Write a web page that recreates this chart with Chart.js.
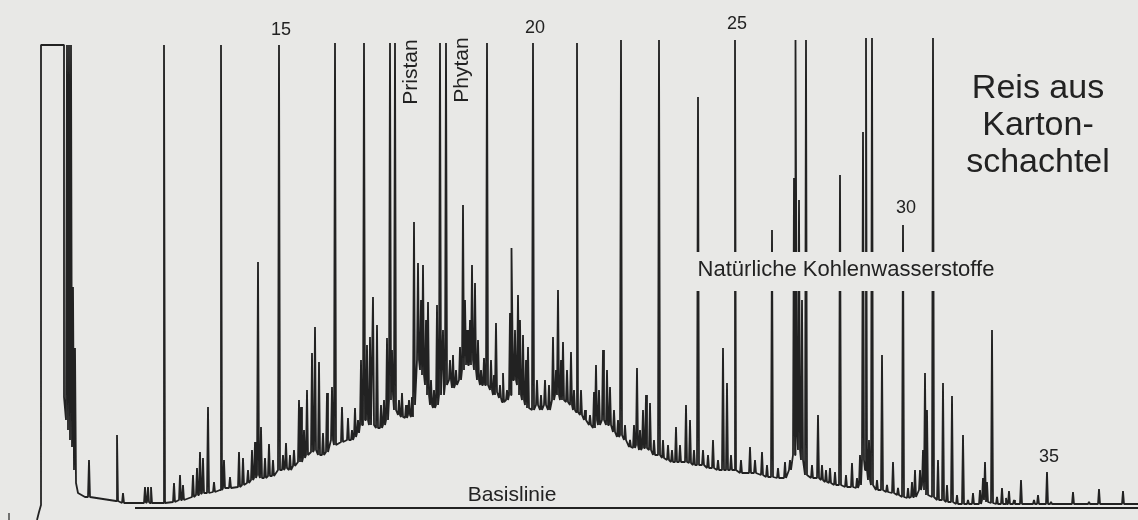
<!DOCTYPE html>
<html lang="de">
<head>
<meta charset="UTF-8">
<title>Gaschromatogramm - Reis aus Kartonschachtel</title>
<script src="https://cdn.jsdelivr.net/npm/chart.js"></script>
<style>
  html, body { margin: 0; padding: 0; background: #e8e8e6; }
  .wrap { position: relative; width: 1138px; height: 520px; }
</style>
</head>
<body>
<div class="wrap"><canvas id="gc"></canvas></div>
<script>
// retention (arbitrary units) and detector signal

// solvent front at the start of the run
const frontRt  = [37, 39, 41, 41, 64, 64, 66, 67, 68, 69, 70, 71, 72, 73, 74, 75, 76, 78, 85];
const frontSig = [-12, -4, 3, 463, 463, 111, 88, 463, 78, 463, 68, 463, 61, 221, 38, 160, 25, 15, 11];

// peaks: position, top and local foot of each peak
const peakRt = [
  89, 117, 123, 145, 148, 151, 164, 174, 180, 183, 193, 197, 200, 203, 208, 214,
  221, 224, 230, 239, 243, 248, 252, 255, 258, 261, 265, 269, 273, 279, 283, 286,
  290, 294, 299, 301, 304, 307, 312, 315, 319, 323, 327, 332, 335, 342, 348, 352,
  355, 358, 361, 364, 367, 370, 373, 377, 381, 384, 387, 390, 392, 395, 399, 402,
  406, 409, 412, 414, 418, 421, 423, 426, 428, 431, 434, 437, 440, 443, 446, 450,
  453, 456, 460, 463, 465, 467, 470, 472, 475, 478, 481, 484, 487, 491, 494, 496,
  500, 503, 507, 510, 512, 515, 518, 520, 523, 526, 528, 533, 537, 541, 545, 549,
  553, 556, 558, 561, 563, 567, 571, 574, 577, 581, 585, 590, 594, 596, 599, 603,
  607, 610, 614, 618, 621, 625, 630, 634, 637, 640, 643, 646, 650, 654, 659, 663,
  668, 672, 676, 680, 686, 690, 694, 698, 703, 708, 713, 718, 723, 727, 731, 735,
  741, 750, 755, 762, 767, 772, 778, 785, 790, 794, 796, 799, 802, 806, 812, 818,
  822, 826, 830, 835, 840, 846, 852, 857, 860, 863, 866, 869, 872, 877, 882, 887,
  893, 898, 903, 908, 912, 915, 920, 923, 925, 927, 933, 938, 943, 947, 952, 957,
  963, 968, 973, 980, 983, 985, 987, 992, 997, 1002, 1006, 1009, 1014, 1021, 1034, 1038,
  1047, 1051, 1073, 1089, 1099, 1123
];
const peakTop = [
  48, 73, 15, 21, 21, 21, 463, 25, 33, 23, 33, 40, 56, 50, 101, 26,
  463, 48, 31, 56, 50, 38, 58, 66, 246, 81, 50, 64, 48, 463, 53, 65,
  53, 58, 108, 101, 78, 118, 155, 181, 146, 75, 115, 121, 465, 101, 90, 78,
  100, 88, 148, 465, 163, 171, 211, 183, 103, 108, 170, 465, 158, 465, 108, 115,
  103, 108, 111, 286, 245, 208, 243, 188, 206, 128, 118, 203, 465, 178, 465, 148,
  153, 138, 161, 303, 208, 178, 188, 243, 225, 168, 138, 150, 465, 148, 133, 185,
  123, 135, 118, 195, 260, 178, 213, 188, 173, 148, 161, 465, 128, 113, 128, 123,
  171, 138, 218, 148, 166, 138, 156, 118, 465, 118, 98, 93, 116, 143, 118, 158,
  138, 121, 98, 88, 468, 83, 68, 83, 140, 78, 98, 113, 105, 68, 468, 68,
  63, 58, 81, 63, 103, 88, 58, 411, 58, 53, 68, 48, 160, 125, 53, 468,
  48, 61, 48, 56, 43, 278, 40, 46, 48, 330, 468, 308, 208, 468, 43, 93,
  43, 38, 40, 36, 333, 33, 45, 30, 53, 376, 470, 68, 470, 28, 153, 23,
  46, 20, 283, 20, 26, 38, 38, 58, 135, 98, 470, 48, 125, 23, 112, 13,
  73, 8, 15, 18, 30, 46, 26, 178, 11, 20, 10, 17, 8, 28, 8, 13,
  36, 6, 16, 6, 19, 17
];
const peakFoot = [
  11, 7, 5, 5, 6, 5, 5, 6, 8, 8, 11, 13, 14, 15, 15, 16,
  18, 20, 20, 21, 23, 25, 28, 30, 33, 30, 30, 32, 32, 38, 38, 40,
  38, 42, 46, 46, 50, 53, 56, 58, 53, 53, 56, 68, 63, 66, 68, 68,
  71, 75, 83, 88, 88, 83, 83, 80, 80, 83, 88, 108, 113, 98, 93, 91,
  90, 93, 91, 103, 148, 138, 133, 123, 113, 103, 100, 103, 113, 113, 123, 128,
  120, 123, 128, 138, 148, 143, 143, 148, 138, 128, 123, 123, 123, 118, 113, 116,
  110, 106, 108, 113, 128, 128, 123, 113, 108, 103, 100, 98, 103, 98, 103, 98,
  108, 113, 113, 108, 108, 106, 103, 98, 96, 93, 88, 83, 80, 88, 83, 88,
  83, 83, 76, 71, 73, 68, 61, 60, 63, 58, 60, 60, 58, 53, 53, 50,
  48, 46, 46, 46, 46, 45, 43, 43, 43, 40, 40, 38, 38, 38, 38, 38,
  35, 35, 35, 33, 31, 31, 30, 30, 38, 53, 78, 58, 48, 33, 30, 30,
  28, 26, 25, 23, 23, 21, 21, 20, 23, 48, 38, 28, 23, 18, 18, 16,
  15, 13, 11, 10, 11, 11, 18, 23, 18, 13, 11, 8, 8, 6, 6, 4,
  4, 4, 4, 4, 8, 8, 6, 5, 4, 4, 4, 4, 4, 4, 4, 4,
  4, 4, 4, 4, 4, 4
];
const runEnd = [1138, 4];

// straight base line drawn under the hump, and the start mark at far left
const baseLineRt = [135, 1138];
const baseLineSig = [0, 0];
const startMarkRt = [9, 9];
const startMarkSig = [-12, -5];

const INK = '#222222';
const PAPER = '#e8e8e6';
const FONT = '"Liberation Sans", Arial, Helvetica, sans-serif';

// assemble the trace: front, then each peak as foot - top - foot
const trace = frontRt.map((rt, i) => ({ x: rt, y: frontSig[i] }));
peakRt.forEach((rt, i) => {
  trace.push({ x: rt - 1, y: peakFoot[i] });
  trace.push({ x: rt, y: peakTop[i] });
  trace.push({ x: rt + 1, y: peakFoot[i] });
});
trace.push({ x: runEnd[0], y: runEnd[1] });

const baseLine = baseLineRt.map((rt, i) => ({ x: rt, y: baseLineSig[i] }));
const startMark = startMarkRt.map((rt, i) => ({ x: rt, y: startMarkSig[i] }));

// labels, anchored in data units
const notes = {
  id: 'notes',
  afterDatasetsDraw(chart) {
    const { ctx, scales: { x, y } } = chart;
    ctx.save();

    // the peaks are interrupted where the hydrocarbon label sits
    const l = x.getPixelForValue(692), r = x.getPixelForValue(1000);
    const t = y.getPixelForValue(256), b = y.getPixelForValue(217);
    ctx.fillStyle = PAPER;
    ctx.fillRect(l, t, r - l, b - t);

    ctx.fillStyle = INK;
    ctx.textAlign = 'center';
    ctx.textBaseline = 'middle';

    ctx.font = '18px ' + FONT;
    [['15', 281, 478], ['20', 535, 480], ['25', 737, 484], ['30', 906, 300], ['35', 1049, 51]]
      .forEach(([txt, rt, sig]) => ctx.fillText(txt, x.getPixelForValue(rt), y.getPixelForValue(sig)));

    ctx.font = '22px ' + FONT;
    ctx.fillText('Natürliche Kohlenwasserstoffe', x.getPixelForValue(846), y.getPixelForValue(238));
    ctx.font = '21px ' + FONT;
    ctx.fillText('Basislinie', x.getPixelForValue(512), y.getPixelForValue(13));

    [['Pristan', 411, 436], ['Phytan', 462, 438]].forEach(([txt, rt, sig]) => {
      ctx.save();
      ctx.translate(x.getPixelForValue(rt), y.getPixelForValue(sig));
      ctx.rotate(-Math.PI / 2);
      ctx.fillText(txt, 0, 0);
      ctx.restore();
    });

    ctx.font = '34px ' + FONT;
    ctx.textBaseline = 'alphabetic';
    [['Reis aus', 410], ['Karton-', 373], ['schachtel', 336]]
      .forEach(([txt, sig]) => ctx.fillText(txt, x.getPixelForValue(1038), y.getPixelForValue(sig)));

    ctx.restore();
  }
};

new Chart(document.getElementById('gc'), {
  type: 'line',
  data: {
    datasets: [
      {
        label: 'Signal',
        data: trace,
        borderColor: INK,
        borderWidth: 1.8,
        borderJoinStyle: 'bevel',
        pointRadius: 0,
        tension: 0,
        fill: false
      },
      {
        label: 'Basislinie',
        data: baseLine,
        borderColor: INK,
        borderWidth: 1.8,
        pointRadius: 0,
        fill: false
      },
      {
        label: 'Start',
        data: startMark,
        borderColor: INK,
        borderWidth: 1.2,
        pointRadius: 0,
        fill: false
      }
    ]
  },
  options: {
    responsive: true,
    maintainAspectRatio: false,
    animation: false,
    parsing: false,
    events: [],
    layout: { padding: 0 },
    plugins: {
      legend: { display: false },
      tooltip: { enabled: false }
    },
    scales: {
      x: { type: 'linear', min: 0, max: 1138, display: false },
      y: { type: 'linear', min: -12, max: 508, display: false }
    }
  },
  plugins: [notes]
});
</script>
</body>
</html>
